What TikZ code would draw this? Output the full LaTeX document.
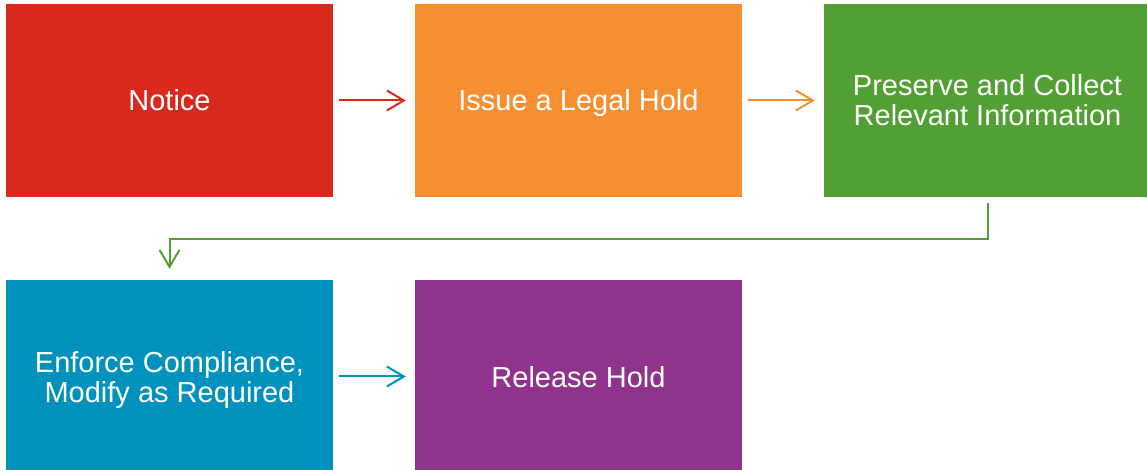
\documentclass[tikz,border=0pt]{standalone}
\usepackage{fontspec}
\setmainfont{Liberation Sans}
\usetikzlibrary{arrows.meta}
\definecolor{cred}{RGB}{217,41,28}
\definecolor{corange}{RGB}{245,143,49}
\definecolor{cgreen}{RGB}{82,160,52}
\definecolor{cblue}{RGB}{0,146,189}
\definecolor{cpurple}{RGB}{144,51,141}
\begin{document}
\begin{tikzpicture}[x=1pt,y=1pt,
  stepbox/.style={minimum width=327pt,minimum height=193pt,inner sep=0pt,
    text=white,align=center,text depth=0pt,font=\fontsize{29}{30}\selectfont},
  link/.style={line width=2pt,
    -{Straight Barb[length=17pt,width=20pt]}}]
\useasboundingbox (0,0) rectangle (1147,470);
% top row
\node[stepbox,fill=cred]    (notice)   at (169.5,369.5) {Notice};
\node[stepbox,fill=corange] (issue)    at (578.5,369.5) {Issue a Legal Hold};
\node[stepbox,fill=cgreen]  (preserve) at (987.5,369.5) {Preserve and Collect\\Relevant Information};
% bottom row
\node[stepbox,fill=cblue]   (enforce)  at (169.5,93.5) {Enforce Compliance,\\Modify as Required};
\node[stepbox,fill=cpurple] (release)  at (578.5,93.5) {Release Hold};
% connectors
\draw[link,cred,shorten <=6pt,shorten >=9pt] (notice.east) -- (issue.west);
\draw[link,corange,shorten <=6pt,shorten >=9pt] (issue.east) -- (preserve.west);
\coordinate (bend) at (987.5,231);
\draw[link,cgreen,shorten <=6pt,shorten >=11pt] (preserve.south) -- (bend) -| (enforce.north);
\draw[link,cblue,shorten <=6pt,shorten >=9pt] (enforce.east) -- (release.west);
\end{tikzpicture}
\end{document}
